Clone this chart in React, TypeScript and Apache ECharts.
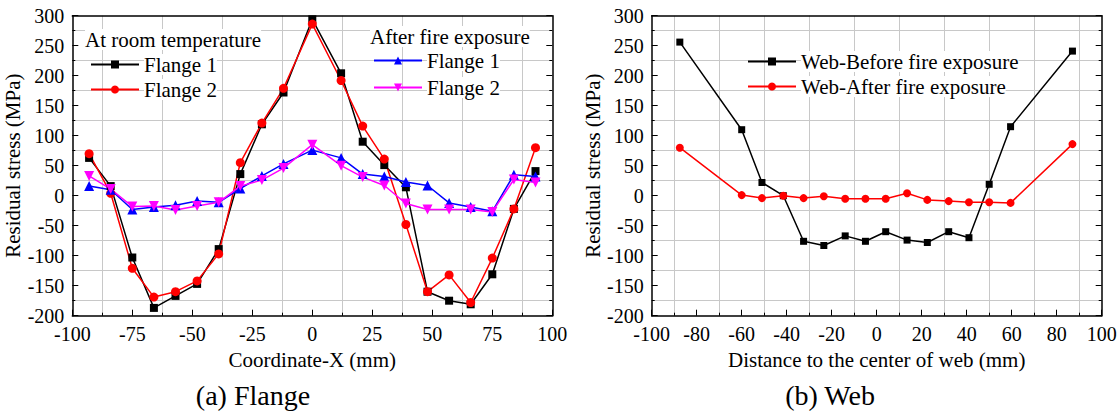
import React, { useEffect, useRef } from "react";
import * as echarts from "echarts";

const FONT = "Liberation Serif";

// Flange (a)
const flangeX = [-93, -84, -75, -66, -57, -48, -39, -30, -21, -12, 0, 12, 21, 30, 39, 48, 57, 66, 75, 84, 93];
const rtFlange1 = [63, 16, -103, -187, -167, -147, -89, 36, 119, 172, 294, 204, 90, 51, 14, -160, -175, -181, -131, -22, 41];
const rtFlange2 = [70, 4, -121, -169, -160, -142, -97, 55, 121, 179, 286, 192, 116, 61, -48, -160, -132, -178, -104, -22, 80];
const afFlange1 = [16, 10, -23, -19, -16, -9, -11, 12, 33, 53, 76, 63, 36, 32, 23, 17, -12, -19, -26, 35, 32];
const afFlange2 = [33, 11, -18, -17, -24, -17, -11, 16, 26, 46, 85, 50, 31, 17, -13, -23, -23, -23, -27, 27, 22];

// Web (b)
const webX = [-87.5, -60, -51, -41.5, -32.5, -23.5, -14, -5, 4, 13.5, 22.5, 32, 41, 50, 59.5, 87];
const webBefore = [256, 110, 22, 0, -76, -83, -67, -76, -60, -74, -78, -60, -70, 19, 115, 241];
const webAfter = [80, 1, -4, 0, -4, -1, -5, -5, -5, 4, -7, -9, -11, -11, -12, 86];

const legendNames: Record<string, string> = {
  "RT Flange 1": "Flange 1",
  "RT Flange 2": "Flange 2",
  "AF Flange 1": "Flange 1",
  "AF Flange 2": "Flange 2",
};

const pairs = (xs: number[], ys: number[]) => xs.map((x, i) => [x, ys[i]]);

function mainX(gridIndex: number, interval: number, name: string) {
  return {
    type: "value",
    gridIndex,
    position: "bottom",
    min: -100,
    max: 100,
    interval,
    name,
    nameLocation: "middle",
    nameGap: 34,
    nameTextStyle: { fontFamily: FONT, fontSize: 21, color: "#000" },
    axisLine: { show: true, onZero: false, lineStyle: { color: "#000", width: 1.5 } },
    axisTick: { show: true, inside: true, length: 6, lineStyle: { color: "#000", width: 1 } },
    minorTick: { show: true, splitNumber: 2, length: 3, lineStyle: { color: "#000", width: 1 } },
    splitLine: { show: false },
    minorSplitLine: { show: true, lineStyle: { color: "#c8c8c8", width: 1 } },
    axisLabel: { fontFamily: FONT, fontSize: 20, color: "#000", margin: 8 },
  };
}

function topX(gridIndex: number, interval: number) {
  return {
    type: "value",
    gridIndex,
    position: "top",
    min: -100,
    max: 100,
    interval,
    axisLine: { show: true, onZero: false, lineStyle: { color: "#000", width: 1.5 } },
    axisTick: { show: false },
    axisLabel: { show: false },
    splitLine: { show: false },
  };
}

function mainY(gridIndex: number, nameGap: number) {
  return {
    type: "value",
    gridIndex,
    position: "left",
    min: -200,
    max: 300,
    interval: 50,
    name: "Residual stress (MPa)",
    nameLocation: "middle",
    nameGap,
    nameTextStyle: { fontFamily: FONT, fontSize: 21, color: "#000" },
    axisLine: { show: true, onZero: false, lineStyle: { color: "#000", width: 1.5 } },
    axisTick: { show: true, inside: true, length: 6, lineStyle: { color: "#000", width: 1 } },
    minorTick: { show: true, splitNumber: 2, length: 3, lineStyle: { color: "#000", width: 1 } },
    splitLine: { show: false },
    minorSplitLine: { show: true, lineStyle: { color: "#c8c8c8", width: 1 } },
    axisLabel: { fontFamily: FONT, fontSize: 20, color: "#000", margin: 8 },
  };
}

function rightY(gridIndex: number) {
  return {
    type: "value",
    gridIndex,
    position: "right",
    min: -200,
    max: 300,
    interval: 50,
    axisLine: { show: true, onZero: false, lineStyle: { color: "#000", width: 1.5 } },
    axisTick: { show: true, inside: true, length: 6, lineStyle: { color: "#000", width: 1 } },
    minorTick: { show: true, splitNumber: 2, length: 3, lineStyle: { color: "#000", width: 1 } },
    axisLabel: { show: false },
    splitLine: { show: false },
  };
}

function lineSeries(
  name: string,
  data: number[][],
  color: string,
  symbol: string,
  symbolSize: number,
  xAxisIndex: number,
  yAxisIndex: number
) {
  return {
    type: "line",
    name,
    data,
    xAxisIndex,
    yAxisIndex,
    symbol,
    symbolSize,
    showAllSymbol: true,
    color,
    itemStyle: { color },
    lineStyle: { color, width: 1.5 },
    silent: true,
  };
}

const legendText = { fontFamily: FONT, fontSize: 21, color: "#000", backgroundColor: "#fff" };

export default function App() {
  const ref = useRef<HTMLDivElement>(null);

  useEffect(() => {
    if (!ref.current) return;
    const chart = echarts.init(ref.current, null, { renderer: "svg" });
    const option = {
      animation: false,
      backgroundColor: "#fff",
      textStyle: { fontFamily: FONT },
      grid: [
        { left: 72.3, top: 15.7, width: 480, height: 300 },
        { left: 651.7, top: 15.7, width: 450, height: 300 },
      ],
      xAxis: [
        mainX(0, 25, "Coordinate-X (mm)"),
        topX(0, 25),
        mainX(1, 20, "Distance to the center of web (mm)"),
        topX(1, 20),
      ],
      yAxis: [mainY(0, 46), rightY(0), mainY(1, 41), rightY(1)],
      legend: [
        {
          data: ["RT Flange 1", "RT Flange 2"],
          orient: "vertical",
          left: 85,
          top: 49,
          itemWidth: 48,
          itemHeight: 10,
          itemGap: 4,
          formatter: (n: string) => legendNames[n] || n,
          textStyle: legendText,
          selectedMode: false,
        },
        {
          data: ["AF Flange 1", "AF Flange 2"],
          orient: "vertical",
          left: 368,
          top: 45,
          itemWidth: 48,
          itemHeight: 10,
          itemGap: 6,
          formatter: (n: string) => legendNames[n] || n,
          textStyle: legendText,
          selectedMode: false,
        },
        {
          data: ["Web-Before fire exposure", "Web-After fire exposure"],
          orient: "vertical",
          left: 742,
          top: 46,
          itemWidth: 48,
          itemHeight: 10,
          itemGap: 4,
          textStyle: legendText,
          selectedMode: false,
        },
      ],
      graphic: [
        {
          type: "text",
          left: 85,
          top: 29,
          z: 10,
          style: { text: "At room temperature", font: `21px ${FONT}`, fill: "#000", backgroundColor: "#fff" },
        },
        {
          type: "text",
          left: 370,
          top: 26,
          z: 10,
          style: { text: "After fire exposure", font: `21px ${FONT}`, fill: "#000", backgroundColor: "#fff" },
        },
        {
          type: "text",
          x: 253,
          y: 395,
          style: { text: "(a) Flange", font: `28px ${FONT}`, fill: "#000", textAlign: "center", textVerticalAlign: "middle" },
        },
        {
          type: "text",
          x: 830,
          y: 395,
          style: { text: "(b) Web", font: `28px ${FONT}`, fill: "#000", textAlign: "center", textVerticalAlign: "middle" },
        },
      ],
      series: [
        lineSeries("RT Flange 1", pairs(flangeX, rtFlange1), "#000000", "rect", 8, 0, 0),
        lineSeries("RT Flange 2", pairs(flangeX, rtFlange2), "#ff0000", "circle", 9, 0, 0),
        lineSeries("AF Flange 1", pairs(flangeX, afFlange1), "#0000ff", "triangle", 10, 0, 0),
        {
          ...lineSeries("AF Flange 2", pairs(flangeX, afFlange2), "#ff00ff", "triangle", 10, 0, 0),
          symbolRotate: 180,
        },
        lineSeries("Web-Before fire exposure", pairs(webX, webBefore), "#000000", "rect", 7, 2, 2),
        lineSeries("Web-After fire exposure", pairs(webX, webAfter), "#ff0000", "circle", 8, 2, 2),
      ],
    };
    chart.setOption(option as any);
    return () => chart.dispose();
  }, []);

  return (
    <div
      ref={ref}
      style={{ position: "fixed", left: 0, top: 0, width: 1120, height: 411, background: "#fff" }}
    />
  );
}
